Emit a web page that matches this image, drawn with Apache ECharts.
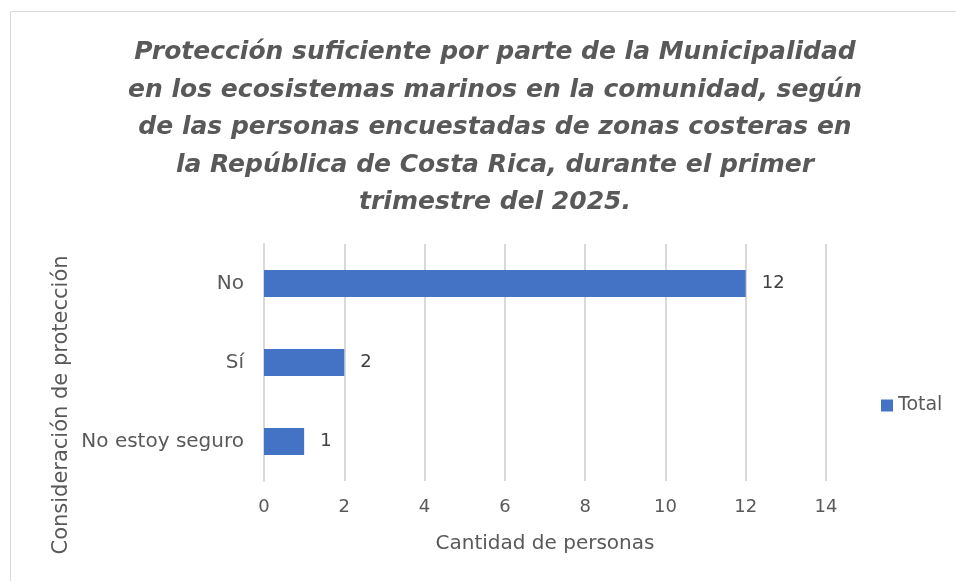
<!DOCTYPE html>
<html><head><meta charset="utf-8">
<script src="https://cdn.jsdelivr.net/npm/echarts@6/dist/echarts.min.js"></script>
<style>html,body{margin:0;padding:0;background:#fff}#c{width:956px;height:581px}</style>
</head><body><div id="c"></div>
<script>
var categories = ['No estoy seguro', 'Sí', 'No'];
var totals = [1, 2, 12];
var xTicks = [0, 2, 4, 6, 8, 10, 12, 14];
var titleText = 'Protección suficiente por parte de la Municipalidad\nen los ecosistemas marinos en la comunidad, según\nde las personas encuestadas de zonas costeras en\nla República de Costa Rica, durante el primer\ntrimestre del 2025.';
var FONT = 'DejaVu Sans';
var chart = echarts.init(document.getElementById('c'));
chart.setOption({
  animation: false,
  backgroundColor: '#fff',
  title: {
    text: titleText,
    left: 490, top: 29, textAlign: 'center',
    textStyle: {fontFamily: FONT, fontSize: 25, fontWeight: 'bold', fontStyle: 'italic', color: '#595959', lineHeight: 37.5}
  },
  graphic: [
    {type: 'rect', shape: {x: 10.5, y: 11.5, width: 960, height: 600}, style: {fill: 'none', stroke: '#d9d9d9', lineWidth: 1}, silent: true},
    {type: 'text', x: 62, y: 405, rotation: Math.PI / 2,
     style: {text: 'Consideración de protección', fontFamily: FONT, fontSize: 21, fill: '#595959', align: 'center', verticalAlign: 'middle'}}
  ],
  legend: {
    data: [{name: 'Total', icon: 'rect'}], orient: 'vertical', left: 876, top: 391,
    itemWidth: 12, itemHeight: 12, itemGap: 4,
    textStyle: {fontFamily: FONT, fontSize: 19, color: '#595959'}
  },
  grid: {left: 264, right: 130, top: 244, height: 237, containLabel: false},
  xAxis: {
    type: 'value', min: 0, max: 14, interval: 2,
    name: 'Cantidad de personas', nameLocation: 'middle', nameGap: 53,
    nameTextStyle: {fontFamily: FONT, fontSize: 20, color: '#595959'},
    axisLine: {show: false}, axisTick: {show: false},
    axisLabel: {fontFamily: FONT, fontSize: 18, color: '#595959', margin: 17,
      formatter: function (v) { return xTicks.indexOf(v) >= 0 ? String(v) : ''; }},
    splitLine: {show: true, lineStyle: {color: '#d9d9d9', width: 2}}
  },
  yAxis: {
    type: 'category', data: categories,
    axisLine: {show: true, lineStyle: {color: '#d9d9d9', width: 2}},
    axisTick: {show: false},
    axisLabel: {fontFamily: FONT, fontSize: 20, color: '#595959', margin: 20}
  },
  series: [{
    name: 'Total', type: 'bar', data: totals,
    barCategoryGap: '66%',
    itemStyle: {color: '#4472c4'},
    label: {show: true, position: 'right', distance: 16, fontFamily: FONT, fontSize: 18, color: '#404040'}
  }]
});
</script></body></html>
